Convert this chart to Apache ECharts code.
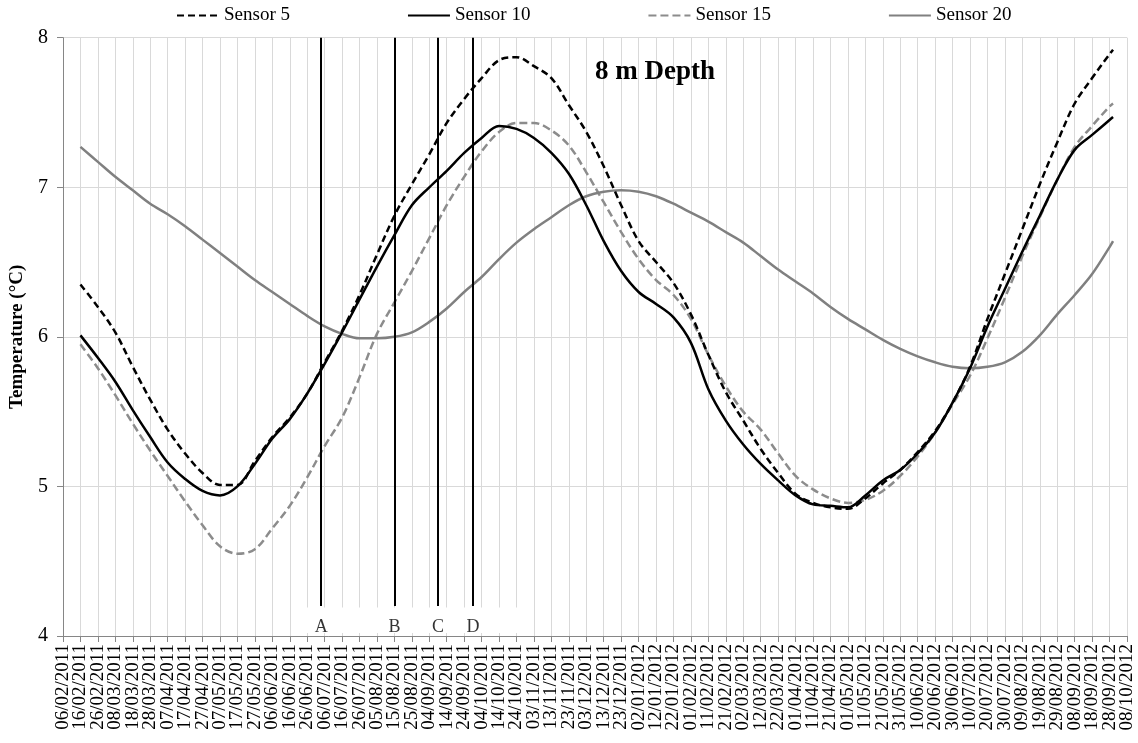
<!DOCTYPE html>
<html>
<head>
<meta charset="utf-8">
<script src="https://cdn.jsdelivr.net/npm/echarts@6/dist/echarts.min.js"></script>
<style>
html,body{margin:0;padding:0;background:#fff;}
#chart{width:1138px;height:743px;}
</style>
</head>
<body>
<div id="chart"></div>
<script>
// Tick labels (every 10 days from 06/02/2011)
const xLabels = [
"06/02/2011","16/02/2011","26/02/2011","08/03/2011","18/03/2011","28/03/2011","07/04/2011","17/04/2011","27/04/2011","07/05/2011",
"17/05/2011","27/05/2011","06/06/2011","16/06/2011","26/06/2011","06/07/2011","16/07/2011","26/07/2011","05/08/2011","15/08/2011",
"25/08/2011","04/09/2011","14/09/2011","24/09/2011","04/10/2011","14/10/2011","24/10/2011","03/11/2011","13/11/2011","23/11/2011",
"03/12/2011","13/12/2011","23/12/2011","02/01/2012","12/01/2012","22/01/2012","01/02/2012","11/02/2012","21/02/2012","02/03/2012",
"12/03/2012","22/03/2012","01/04/2012","11/04/2012","21/04/2012","01/05/2012","11/05/2012","21/05/2012","31/05/2012","10/06/2012",
"20/06/2012","30/06/2012","10/07/2012","20/07/2012","30/07/2012","09/08/2012","19/08/2012","29/08/2012","08/09/2012","18/09/2012",
"28/09/2012","08/10/2012"
];
const yTicks = [4, 5, 6, 7, 8];

// Sample days (days since 06/02/2011)
const sampleDays = [10,20,30,40,50,60,70,80,90,100,110,120,130,140,150,160,170,180,190,200,
210,220,230,240,250,260,270,280,290,300,310,320,330,340,350,360,370,380,390,400,
410,420,430,440,450,460,470,480,490,500,510,520,530,540,550,560,570,580,590,600,602];

const sensor5 = [6.35,6.20,6.03,5.80,5.58,5.38,5.22,5.09,5.01,5.01,5.17,5.33,5.46,5.62,5.83,6.04,6.28,6.55,6.81,7.02,
7.22,7.43,7.59,7.73,7.85,7.87,7.81,7.73,7.55,7.37,7.14,6.88,6.64,6.50,6.36,6.15,5.88,5.63,5.44,5.25,
5.09,4.95,4.89,4.86,4.85,4.92,5.02,5.11,5.23,5.37,5.56,5.80,6.12,6.42,6.72,7.02,7.30,7.56,7.73,7.89,7.92];

const sensor10 = [6.01,5.86,5.70,5.51,5.33,5.16,5.05,4.97,4.94,5.00,5.15,5.32,5.45,5.62,5.82,6.03,6.25,6.47,6.68,6.88,
7.00,7.11,7.23,7.33,7.41,7.39,7.33,7.23,7.09,6.88,6.64,6.44,6.30,6.22,6.13,5.96,5.65,5.44,5.28,5.15,
5.04,4.94,4.88,4.87,4.86,4.94,5.04,5.11,5.22,5.36,5.56,5.79,6.07,6.32,6.57,6.81,7.05,7.25,7.35,7.45,7.47];

const sensor15 = [5.95,5.79,5.61,5.42,5.24,5.07,4.90,4.74,4.60,4.55,4.58,4.72,4.87,5.06,5.27,5.46,5.73,6.02,6.23,6.44,
6.66,6.88,7.07,7.24,7.37,7.43,7.43,7.38,7.28,7.10,6.90,6.70,6.52,6.38,6.28,6.12,5.88,5.67,5.50,5.38,
5.22,5.07,4.98,4.92,4.89,4.91,4.97,5.07,5.20,5.36,5.55,5.74,5.99,6.26,6.54,6.80,7.05,7.27,7.41,7.54,7.56];

const sensor20 = [7.27,7.17,7.07,6.98,6.89,6.82,6.74,6.65,6.56,6.47,6.38,6.30,6.22,6.14,6.07,6.02,5.99,5.99,6.00,6.03,
6.10,6.19,6.30,6.40,6.52,6.63,6.72,6.80,6.88,6.94,6.97,6.98,6.97,6.94,6.89,6.83,6.77,6.70,6.63,6.54,
6.45,6.37,6.29,6.20,6.12,6.05,5.98,5.92,5.87,5.83,5.80,5.79,5.80,5.83,5.90,6.01,6.15,6.28,6.42,6.60,6.64];

// Event markers
const eventNames = ["A", "B", "C", "D"];
const eventDays = [148, 190, 215, 235];

const FONT = '"Liberation Serif","Times New Roman",serif';
const DAY_SPAN = (xLabels.length - 1) * 10;
const pair = arr => sampleDays.map((d, i) => [d, arr[i]]);

const chart = echarts.init(document.getElementById('chart'), null, {renderer: 'canvas'});

const option = {
  backgroundColor: '#fff',
  animation: false,
  title: {
    text: '8 m Depth',
    left: 595, top: 57, padding: 0,
    textStyle: {fontFamily: FONT, fontWeight: 'bold', fontSize: 27, color: '#000', lineHeight: 30}
  },
  legend: {
    data: ['Sensor 5', 'Sensor 10', 'Sensor 15', 'Sensor 20'],
    left: 176, top: 6, padding: 0,
    itemWidth: 42, itemHeight: 22, itemGap: 117,
    itemStyle: {opacity: 0},
    textStyle: {fontFamily: FONT, fontSize: 19, color: '#000'}
  },
  grid: {left: 59, right: 11, top: 37.7, bottom: 107, containLabel: false},
  xAxis: [
    {
      // label / tick axis
      type: 'category', data: xLabels, boundaryGap: false, position: 'bottom',
      axisLine: {show: true, lineStyle: {color: '#868686', width: 1}},
      axisTick: {show: true, length: 6, interval: 0, lineStyle: {color: '#868686'}},
      splitLine: {show: true, interval: 0, lineStyle: {color: '#d9d9d9', width: 1}},
      axisLabel: {
        rotate: 90, margin: 8, interval: 0, fontFamily: FONT, fontSize: 19, color: '#000'
      }
    },
    {
      // data axis (days since 06/02/2011)
      type: 'value', min: 0, max: DAY_SPAN, position: 'bottom', show: false,
      splitLine: {show: false}
    }
  ],
  yAxis: {
    type: 'value', min: yTicks[0], max: yTicks[yTicks.length - 1], interval: 1,
    name: 'Temperature (°C)', nameLocation: 'middle', nameGap: 36,
    nameTextStyle: {fontFamily: FONT, fontWeight: 'bold', fontSize: 19, color: '#000'},
    axisLine: {show: true, lineStyle: {color: '#868686', width: 1}},
    axisTick: {show: true, length: 6, lineStyle: {color: '#868686'}},
    splitLine: {show: true, lineStyle: {color: '#d9d9d9', width: 1}},
    axisLabel: {margin: 15, fontFamily: FONT, fontSize: 20, color: '#000'}
  },
  series: [
    {
      name: 'Sensor 5', type: 'line', xAxisIndex: 1, data: pair(sensor5), smooth: 0.35,
      symbol: 'none', lineStyle: {color: '#000', width: 2.5, type: [7, 4]},
      itemStyle: {color: '#000'}, z: 5
    },
    {
      name: 'Sensor 10', type: 'line', xAxisIndex: 1, data: pair(sensor10), smooth: 0.35,
      symbol: 'none', lineStyle: {color: '#000', width: 2.5, type: 'solid'},
      itemStyle: {color: '#000'}, z: 5
    },
    {
      name: 'Sensor 15', type: 'line', xAxisIndex: 1, data: pair(sensor15), smooth: 0.35,
      symbol: 'none', lineStyle: {color: '#8c8c8c', width: 2.5, type: [8, 4]},
      itemStyle: {color: '#8c8c8c'}, z: 4
    },
    {
      name: 'Sensor 20', type: 'line', xAxisIndex: 1, data: pair(sensor20), smooth: 0.35,
      symbol: 'none', lineStyle: {color: '#808080', width: 2.5, type: 'solid'},
      itemStyle: {color: '#808080'}, z: 4,
      markArea: {
        silent: true,
        itemStyle: {color: '#ffffff'},
        data: [[{coord: [139, 4.02]}, {coord: [261, 4.19]}]]
      },
      markLine: {
        silent: true, symbol: ['none', 'none'],
        lineStyle: {color: '#000', width: 2, type: 'solid'},
        label: {show: false},
        data: eventDays.map(d => [{coord: [d, 8]}, {coord: [d, 4.2]}])
      }
    },
    {
      name: 'events', type: 'scatter', xAxisIndex: 1, symbol: 'circle', symbolSize: 1,
      itemStyle: {color: 'rgba(0,0,0,0)'}, silent: true, z: 6,
      data: eventDays.map((d, i) => [d, 4.06, eventNames[i]]),
      label: {
        show: true, position: 'inside', fontFamily: FONT, fontSize: 18, color: '#000',
        formatter: p => p.data[2]
      }
    }
  ]
};
chart.setOption(option);
</script>
</body>
</html>
